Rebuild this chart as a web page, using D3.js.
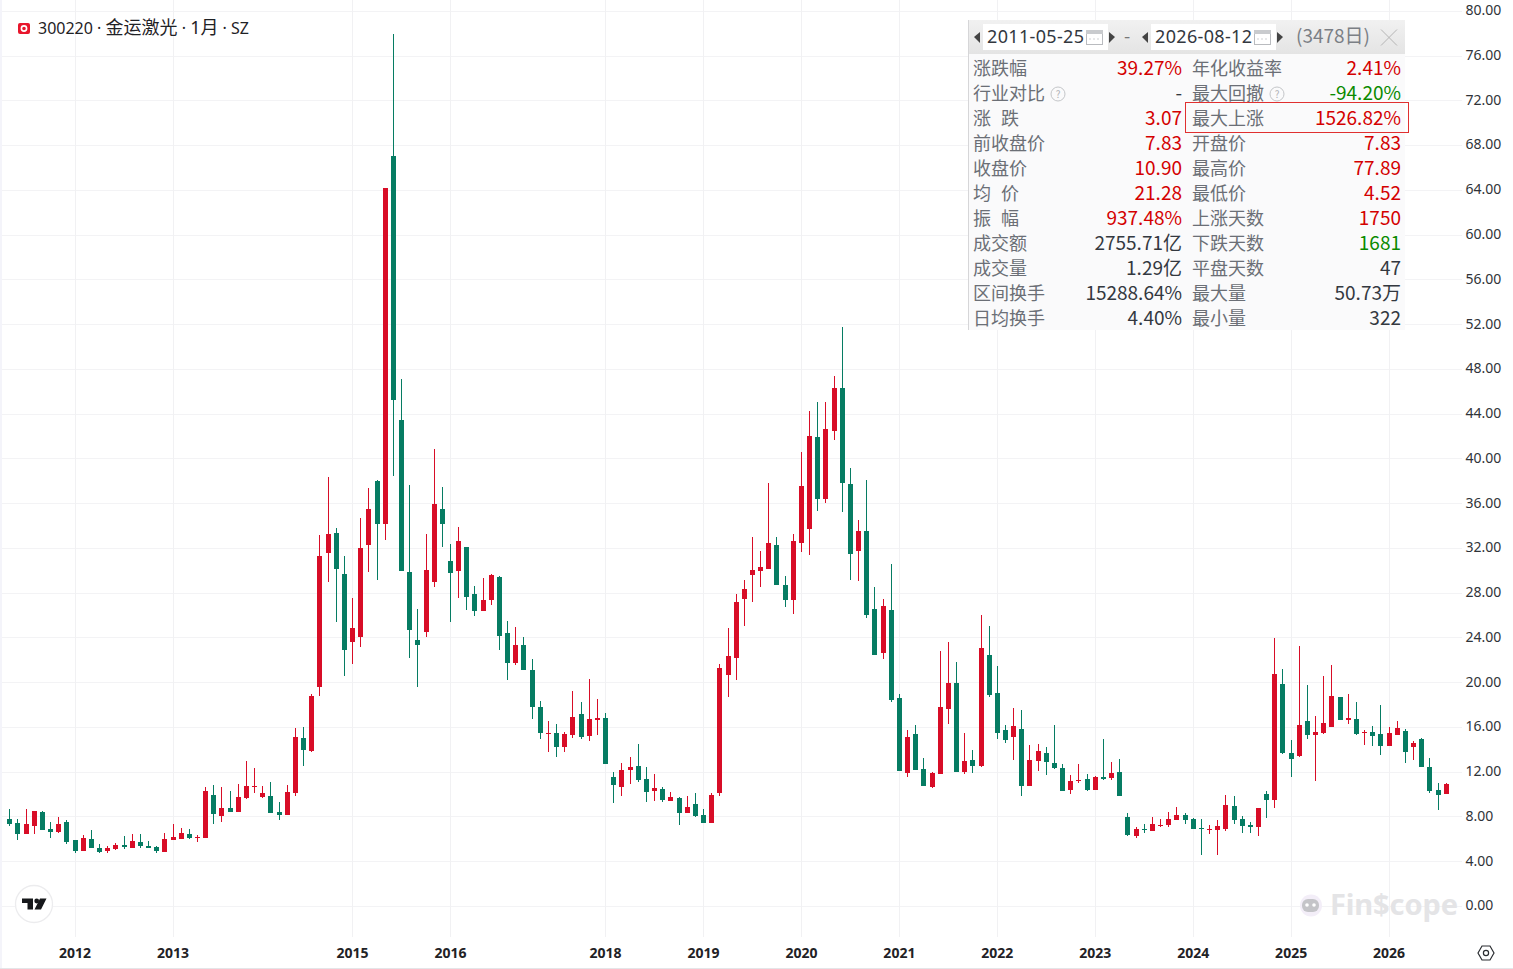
<!DOCTYPE html>
<html><head><meta charset="utf-8">
<style>html,body{margin:0;padding:0;background:#fff;overflow:hidden}svg{display:block}
text{font-family:"Noto Sans CJK SC","Noto Sans",sans-serif}</style>
<script src="https://cdn.jsdelivr.net/npm/d3@7/dist/d3.min.js"></script>
</head><body><svg id="c" width="1513" height="969"></svg>
<script>
const months=["2011-05","2011-06","2011-07","2011-08","2011-09","2011-10","2011-11","2011-12",
"2012-01","2012-02","2012-03","2012-04","2012-05","2012-06","2012-07","2012-08","2012-09","2012-10","2012-11","2012-12",
"2013-01","2013-02","2013-03","2013-04","2013-05","2013-06","2013-07","2013-08","2013-09","2013-10","2013-11","2013-12",
"2014-03","2014-04","2014-05","2014-06","2014-07","2014-08","2014-09","2014-10","2014-11","2014-12",
"2015-01","2015-02","2015-03","2015-04","2015-05","2015-06","2015-07","2015-08","2015-09","2015-10","2015-11","2015-12",
"2016-01","2016-02","2016-03","2016-04","2016-05","2016-06","2016-07","2016-08","2016-09","2016-10","2016-11","2016-12",
"2017-06","2017-07","2017-08","2017-09","2017-10","2017-11","2017-12",
"2018-01","2018-02","2018-03","2018-04","2018-05","2018-06","2018-07","2018-08","2018-09","2018-10","2018-11","2018-12",
"2019-01","2019-02","2019-03","2019-04","2019-05","2019-06","2019-07","2019-08","2019-09","2019-10","2019-11","2019-12",
"2020-01","2020-02","2020-03","2020-04","2020-05","2020-06","2020-07","2020-08","2020-09","2020-10","2020-11","2020-12",
"2021-01","2021-02","2021-03","2021-04","2021-05","2021-06","2021-07","2021-08","2021-09","2021-10","2021-11","2021-12",
"2022-01","2022-02","2022-03","2022-04","2022-05","2022-06","2022-07","2022-08","2022-09","2022-10","2022-11","2022-12",
"2023-01","2023-02","2023-03","2023-04","2023-05","2023-06","2023-07","2023-08","2023-09","2023-10","2023-11","2023-12",
"2024-01","2024-02","2024-03","2024-04","2024-05","2024-06","2024-07","2024-08","2024-09","2024-10","2024-11","2024-12",
"2025-01","2025-02","2025-03","2025-04","2025-05","2025-06","2025-07","2025-08","2025-09","2025-10","2025-11","2025-12",
"2026-01","2026-02","2026-03","2026-04","2026-05","2026-06","2026-07","2026-08"];
const opens=[7.77,7.42,6.43,7.15,8.40,6.88,6.61,7.51,5.90,4.92,
5.99,5.18,4.92,5.09,5.45,5.18,5.72,5.36,5.27,4.83,
5.90,5.99,6.43,6.11,6.08,9.92,8.04,8.76,8.40,9.65,
10.66,9.74,9.83,8.40,8.13,10.10,15.01,13.85,19.57,31.55,
33.33,29.67,23.59,24.04,32.26,37.98,34.14,67.02,43.43,29.85,
23.77,24.49,28.95,35.48,30.83,29.94,32.08,27.88,26.36,27.35,
29.40,24.40,21.72,23.32,21.09,17.78,15.37,15.46,14.21,15.28,
17.16,15.19,16.62,16.80,11.53,10.63,12.15,12.51,11.35,10.28,
10.46,9.38,9.65,8.31,9.12,8.13,7.42,10.10,20.64,22.16,
27.44,29.58,29.94,30.12,32.26,28.69,27.35,32.44,33.69,41.91,
36.37,42.45,46.29,37.71,31.72,33.51,26.54,22.61,26.45,18.59,
11.89,15.37,12.24,10.63,11.80,17.60,19.93,11.97,13.05,12.51,
22.43,19.03,15.73,15.10,15.82,10.72,12.96,13.67,12.78,12.33,
10.37,11.17,11.35,10.37,11.53,11.44,11.97,7.95,6.26,6.88,
6.70,7.15,7.24,7.69,8.13,7.77,6.97,6.79,6.79,6.88,
8.94,7.77,7.24,7.06,10.01,9.47,19.84,13.67,13.40,16.53,
15.28,15.46,16.00,18.68,16.62,16.71,15.46,15.55,15.37,14.30,
15.28,15.64,14.21,14.92,12.42,10.37,10.01];
const highs=[8.67,7.77,8.67,8.49,8.49,7.51,7.95,7.69,5.90,6.35,
6.79,5.54,5.36,5.63,6.26,6.43,6.43,5.81,5.36,6.52,
7.33,6.97,6.88,6.35,10.63,10.81,10.63,10.28,10.90,12.96,
12.33,10.72,11.08,9.29,10.81,15.91,16.00,18.95,33.15,38.34,
33.78,31.28,27.52,34.67,37.35,38.07,64.16,77.89,47.10,37.62,
26.54,33.24,40.84,37.44,32.35,33.87,32.08,28.60,29.31,29.67,
29.49,25.47,24.93,24.04,22.07,18.32,16.53,16.26,15.55,19.21,
18.23,20.29,18.50,17.25,11.97,12.78,13.32,14.48,12.42,11.80,
10.63,10.19,9.74,9.83,10.10,8.67,10.10,21.63,24.84,27.88,
29.13,32.98,31.72,37.80,32.98,29.49,33.24,40.57,44.24,45.04,
45.04,47.36,51.74,39.14,34.50,38.07,28.51,27.44,30.56,18.95,
15.73,16.18,13.23,11.97,22.79,23.59,21.81,15.46,13.94,26.01,
25.02,21.45,16.18,17.69,17.52,14.39,14.48,14.21,16.18,12.69,
11.71,12.69,11.80,11.62,14.92,12.87,13.14,8.31,7.06,7.33,
7.95,7.77,8.40,8.85,8.31,7.86,7.77,7.24,7.69,9.92,
9.83,8.04,7.51,8.76,10.28,23.95,21.18,14.83,23.24,19.75,
16.98,20.55,21.54,18.68,18.95,18.23,15.73,16.09,17.96,16.00,
16.53,15.82,14.75,15.01,13.23,10.99,10.99];
const lows=[7.15,5.90,6.43,6.43,6.79,6.08,6.52,5.54,4.74,4.92,
5.18,4.74,4.74,5.00,5.09,5.18,5.18,5.18,4.74,4.83,
5.90,5.99,5.99,5.72,6.08,7.33,7.51,8.40,8.40,9.56,
10.10,9.65,8.31,7.69,8.13,9.83,12.51,13.80,18.77,28.95,
25.38,20.55,21.63,23.15,29.85,29.13,32.71,38.43,29.94,22.16,
19.57,24.04,28.51,32.08,25.38,27.52,26.45,25.92,26.36,26.90,
22.88,20.20,21.54,21.09,16.71,14.92,13.76,13.32,13.76,15.01,
14.92,14.75,15.28,12.69,9.20,9.83,10.90,11.08,9.29,9.38,
9.29,9.38,7.24,8.31,7.95,7.42,7.42,9.83,18.68,20.20,
25.02,27.17,28.51,30.12,28.69,26.72,26.10,31.64,31.37,35.30,
36.01,41.64,35.21,29.13,29.04,25.74,22.43,22.07,18.23,12.06,
11.53,12.15,10.72,10.55,11.80,16.26,11.97,11.80,11.89,12.42,
18.68,14.92,14.57,13.05,9.83,10.72,12.06,11.71,12.24,10.28,
10.01,10.99,10.28,10.37,11.26,11.26,9.83,6.26,6.08,6.52,
6.70,7.06,7.06,7.69,7.33,6.88,4.56,6.43,4.56,6.70,
7.33,6.52,6.52,6.26,7.86,8.76,13.58,11.53,13.32,14.92,
11.17,15.37,16.00,16.62,16.26,15.28,14.39,14.30,13.49,14.30,
15.28,12.78,13.05,12.42,10.10,8.58,10.01];
const closes=[7.33,6.43,7.33,8.49,6.79,6.61,7.33,5.72,4.92,6.08,
5.18,4.83,5.18,5.45,5.27,5.81,5.36,5.18,4.92,5.99,
6.17,6.52,6.08,6.17,10.28,8.22,8.76,8.40,9.74,10.72,
10.72,10.10,8.31,8.13,10.19,15.10,13.94,18.77,31.28,33.24,
30.12,22.88,24.84,31.99,35.48,34.14,64.16,45.22,29.94,24.66,
23.32,30.03,35.93,34.14,29.76,32.62,27.61,26.36,27.35,29.58,
24.13,21.72,23.32,21.09,17.78,15.46,15.46,14.21,15.37,16.89,
15.10,16.71,16.80,12.69,10.81,12.15,12.42,11.26,10.19,10.55,
9.47,9.74,8.31,8.85,8.04,7.42,9.92,21.27,22.34,27.17,
28.33,30.03,30.30,32.44,28.69,27.35,32.62,37.53,42.00,36.37,
42.63,46.29,37.80,31.46,33.51,26.01,22.43,26.81,18.41,12.06,
15.10,12.15,10.72,11.89,17.78,19.93,11.97,12.96,12.51,23.06,
18.86,15.46,14.83,16.09,10.72,13.05,13.85,12.87,12.33,10.28,
11.17,11.26,10.37,11.53,11.35,11.89,9.83,6.34,6.88,6.79,
7.33,7.24,7.77,8.13,7.69,6.88,6.88,6.88,7.15,9.03,
7.69,7.15,7.06,8.76,9.47,20.73,13.67,13.14,16.18,15.28,
15.55,16.35,18.77,16.62,16.80,15.37,15.55,15.19,14.30,15.46,
15.91,13.76,14.57,12.42,10.28,9.92,10.90];
const priceTicks=[0,4,8,12,16,20,24,28,32,36,40,44,48,52,56,60,64,68,72,76,80];
const yearTicks=["2012-01","2013-01","2015-01","2016-01","2018-01","2019-01","2020-01","2021-01","2022-01","2023-01","2024-01","2025-01","2026-01"];
const titleParts=["300220 · ","金运激光"," · ","1月"," · SZ"];
const leftLabels=["涨跌幅","行业对比","涨 跌","前收盘价","收盘价","均 价","振 幅","成交额","成交量","区间换手","日均换手"];
const leftValues=["39.27%","-","3.07","7.83","10.90","21.28","937.48%","2755.71亿","1.29亿","15288.64%","4.40%"];
const rightLabels=["年化收益率","最大回撤","最大上涨","开盘价","最高价","最低价","上涨天数","下跌天数","平盘天数","最大量","最小量"];
const rightValues=["2.41%","-94.20%","1526.82%","7.83","77.89","4.52","1750","1681","47","50.73万","322"];
const leftColors=["r","k","r","r","r","r","r","k","k","k","k"];
const rightColors=["r","g","r","r","r","r","r","g","k","k","k"];

const RED="#d80d27",GREEN="#067c63",LABEL="#6b6f76",DARK="#33383f";
const tone={r:"#d40000",g:"#0a8a00",k:DARK};
const LATIN="'Noto Sans','Noto Sans CJK SC',sans-serif";
const svg=d3.select("#c");
svg.append("rect").attr("width",1513).attr("height",969).attr("fill","#fff");
svg.append("rect").attr("width",2).attr("height",969).attr("fill","#f4f4fa");
svg.append("line").attr("x1",0).attr("x2",1513).attr("y1",968.5).attr("y2",968.5).attr("stroke","#e4e5e8");

const x=d3.scalePoint().domain(months).range([10.3,1446.7]);
const y=d3.scaleLinear().domain([0,80]).range([906,10.8]);

// grid
svg.append("g").selectAll("line").data(priceTicks).join("line")
 .attr("x1",2).attr("x2",1462).attr("y1",d=>Math.round(y(d))+.5).attr("y2",d=>Math.round(y(d))+.5)
 .attr("stroke","#f3f3f5").attr("stroke-width",1);
svg.append("g").selectAll("line").data(yearTicks).join("line")
 .attr("x1",d=>Math.round(x(d))-.5).attr("x2",d=>Math.round(x(d))-.5).attr("y1",0).attr("y2",937)
 .attr("stroke","#f1f1f3").attr("stroke-width",1);

// axes
const ay=svg.append("g").attr("transform","translate(1465.5,-0.6)")
 .call(d3.axisRight(y).tickValues(priceTicks).tickFormat(d3.format(".2f")).tickSize(0).tickPadding(0));
ay.select(".domain").remove();
ay.selectAll("text").attr("font-size",14).attr("fill","#2f3338").style("font-family",LATIN);
const ax=svg.append("g").attr("transform","translate(-1,941)")
 .call(d3.axisBottom(x).tickValues(yearTicks).tickFormat(d=>d.slice(0,4)).tickSize(0).tickPadding(0));
ax.select(".domain").remove();
ax.selectAll("text").attr("font-size",14).attr("font-weight",700).attr("fill","#1f2226").attr("dy","0").attr("y",17)
  .style("font-family",LATIN);

// candles
const idx=d3.range(months.length);
const col=i=>closes[i]>=opens[i]?RED:GREEN;
const g=svg.append("g").attr("shape-rendering","crispEdges");
g.selectAll("line").data(idx).join("line")
 .attr("x1",i=>Math.round(x(months[i]))-.5).attr("x2",i=>Math.round(x(months[i]))-.5)
 .attr("y1",i=>y(highs[i])).attr("y2",i=>y(lows[i])).attr("stroke",col).attr("stroke-width",1);
g.selectAll("rect").data(idx).join("rect")
 .attr("x",i=>Math.round(x(months[i]))-3).attr("width",5)
 .attr("y",i=>y(Math.max(opens[i],closes[i])))
 .attr("height",i=>Math.max(1,Math.abs(y(opens[i])-y(closes[i]))))
 .attr("fill",col);

// header
svg.append("rect").attr("x",18).attr("y",23).attr("width",12).attr("height",11).attr("rx",2).attr("fill","#e8162c");
svg.append("circle").attr("cx",24).attr("cy",28.5).attr("r",2.6).attr("fill","none").attr("stroke","#fff").attr("stroke-width",1.6);
const tt=svg.append("text").attr("x",38).attr("y",34).attr("fill","#1f2226").style("font-family",LATIN).style("white-space","pre");
titleParts.forEach((p,i)=>tt.append("tspan").attr("font-size",i%2?18:16).text(p));

// panel
const P=svg.append("g");
P.append("rect").attr("x",968).attr("y",20).attr("width",437).attr("height",310).attr("fill","#fafafb");
P.append("line").attr("x1",968.5).attr("x2",968.5).attr("y1",20).attr("y2",330).attr("stroke","#d6d6d8");
const defs=svg.append("defs").append("linearGradient").attr("id","hdr").attr("x1",0).attr("x2",0).attr("y1",0).attr("y2",1);
defs.append("stop").attr("offset",0).attr("stop-color","#f1f1f1");
defs.append("stop").attr("offset",1).attr("stop-color","#e4e4e4");
P.append("rect").attr("x",969).attr("y",20).attr("width",436).attr("height",34).attr("fill","url(#hdr)");
const dates=[["2011-05-25",983],["2026-08-12",1151]];
dates.forEach(([t,x0])=>{
  P.append("rect").attr("x",x0).attr("y",24).attr("width",125).attr("height",26).attr("fill","#fff");
  P.append("text").attr("x",x0+4).attr("y",43).attr("font-size",18).attr("fill",DARK)
    .style("font-family",LATIN).attr("textLength",97).attr("lengthAdjust","spacing").text(t);
  const ix=x0+103;
  P.append("rect").attr("x",ix+.5).attr("y",30.5).attr("width",16).attr("height",14).attr("fill","#fff").attr("stroke","#b9bbbf");
  P.append("rect").attr("x",ix).attr("y",30).attr("width",17).attr("height",4).attr("fill","#c9cbce");
  P.append("line").attr("x1",ix+3).attr("x2",ix+13).attr("y1",39).attr("y2",39).attr("stroke","#cfd1d4").attr("stroke-dasharray","2 2");
  [[x0-6,-1],[x0+129,1]].forEach(([ax0,s])=>{
    P.append("path").attr("d",`M${ax0+s*3},37 L${ax0-s*3},32 L${ax0-s*3},43 Z`).attr("fill","#444");
  });
});
P.append("text").attr("x",1124).attr("y",43).attr("font-size",18).attr("fill","#777").text("-");
P.append("text").attr("x",1296).attr("y",43).attr("font-size",19).attr("fill","#7b7f85").text("(3478日)");
P.append("path").attr("d","M1381,29.5 L1397,45.5 M1397,29.5 L1381,45.5").attr("stroke","#b5b5b5").attr("stroke-width",1).attr("fill","none");

const rowY=i=>75+i*25;
const drawCol=(labs,vals,cols,lx,vx)=>{
  const n=d3.range(labs.length);
  P.append("g").selectAll("text").data(n).join("text").attr("x",lx).attr("y",rowY)
   .attr("font-size",18).attr("fill",LABEL).style("word-spacing","6px").text(i=>labs[i]);
  P.append("g").selectAll("text").data(n).join("text").attr("x",vx).attr("y",rowY).attr("text-anchor","end")
   .attr("font-size",19).attr("fill",i=>tone[cols[i]]).text(i=>vals[i]);
};
drawCol(leftLabels,leftValues,leftColors,973,1182);
drawCol(rightLabels,rightValues,rightColors,1192,1401);
[[1058,94],[1277,94]].forEach(([cx,cy])=>{
  P.append("circle").attr("cx",cx).attr("cy",cy).attr("r",7).attr("fill","none").attr("stroke","#c4c6c9");
  P.append("text").attr("x",cx).attr("y",cy+4).attr("text-anchor","middle").attr("font-size",10).attr("fill","#b0b2b6").text("?");
});
P.append("rect").attr("x",1185.5).attr("y",102.5).attr("width",223).attr("height",30).attr("fill","none").attr("stroke","#e03030");

// logo
svg.append("circle").attr("cx",34).attr("cy",904).attr("r",18.5).attr("fill","#fff").attr("stroke","#ececee").attr("stroke-width",1.3);
svg.append("path").attr("d","M22,898.5 H33 V909.5 H27.5 V903 H22 Z M46.5,898.5 L41,909.5 H34.5 L40,898.5 Z").attr("fill","#16181b");
svg.append("circle").attr("cx",36.7).attr("cy",901).attr("r",2.4).attr("fill","#16181b");

// watermark
svg.append("circle").attr("cx",1311).attr("cy",905.5).attr("r",11).attr("fill","#f3eef8");
svg.append("rect").attr("x",1302).attr("y",899).attr("width",17).attr("height",13).attr("rx",6).attr("fill","#c4c4c8");
svg.append("circle").attr("cx",1307).attr("cy",905).attr("r",1.8).attr("fill","#fff");
svg.append("circle").attr("cx",1314).attr("cy",905).attr("r",1.8).attr("fill","#fff");
svg.append("text").attr("x",1330).attr("y",915).attr("font-size",29).attr("font-weight",700).attr("fill","#e4e4e6")
 .style("font-family","'Noto Sans',sans-serif").attr("textLength",128).text("Fin$cope");

// settings hexagon
svg.append("path").attr("d","M1478,953 L1482,946 L1490,946 L1494,953 L1490,960 L1482,960 Z").attr("fill","none").attr("stroke","#2a2d31").attr("stroke-width",1.2);
svg.append("circle").attr("cx",1486).attr("cy",953).attr("r",2.6).attr("fill","none").attr("stroke","#2a2d31").attr("stroke-width",1.2);
</script></body></html>
